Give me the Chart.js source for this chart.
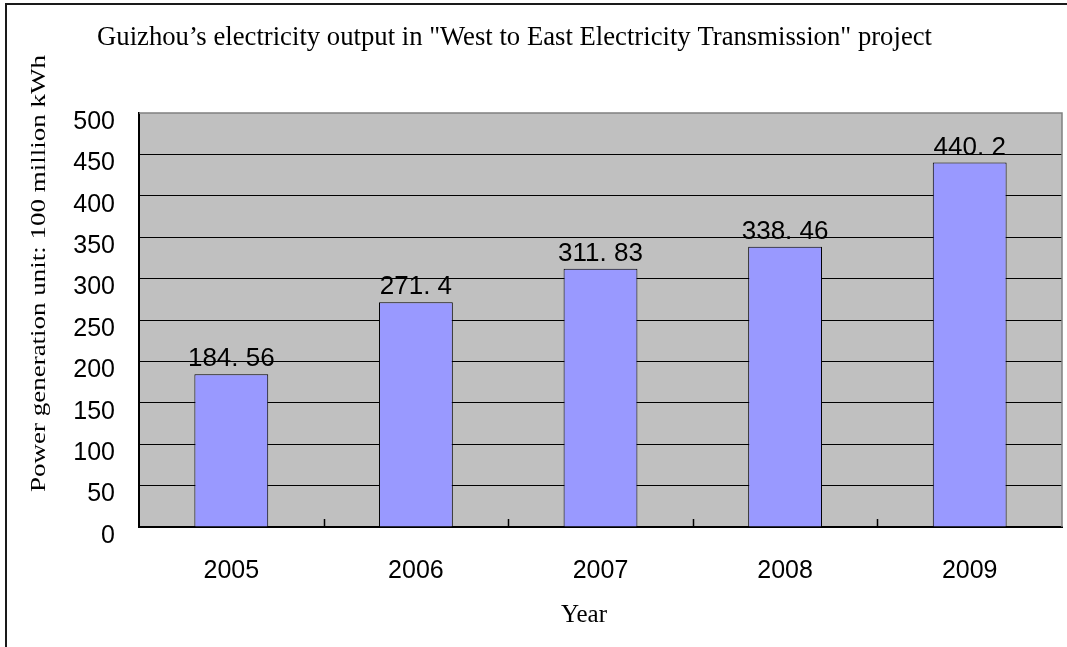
<!DOCTYPE html>
<html>
<head>
<meta charset="utf-8">
<script src="https://cdn.jsdelivr.net/npm/chart.js@4/dist/chart.umd.min.js"></script>
<style>
  html, body { margin: 0; padding: 0; background: #fff; }
  #wrap { width: 1067px; height: 647px; position: relative; }
</style>
</head>
<body>
<div id="wrap"><canvas id="c" width="1067" height="647"></canvas></div>
<script>
const years = ['2005', '2006', '2007', '2008', '2009'];
const output = [184.56, 271.4, 311.83, 338.46, 440.2];
const valueLabels = ['184. 56', '271. 4', '311. 83', '338. 46', '440. 2'];
const yTicks = [0, 50, 100, 150, 200, 250, 300, 350, 400, 450, 500];
const chartTitle = 'Guizhou\u2019s electricity output in "West to East Electricity Transmission" project';
const yTitle = 'Power generation unit: 100 million kWh';
const xTitle = 'Year';

const SANS = "'Liberation Sans', Arial, sans-serif";
const SERIF = "'Liberation Serif', 'Times New Roman', serif";

function drawStretched(ctx, text, x, y, targetWidth, rotate) {
  ctx.save();
  ctx.translate(x, y);
  if (rotate) ctx.rotate(-Math.PI / 2);
  const w = ctx.measureText(text).width;
  ctx.scale(targetWidth / w, 1);
  ctx.textAlign = 'center';
  ctx.textBaseline = 'alphabetic';
  ctx.fillText(text, 0, 0);
  ctx.restore();
}

const decor = {
  id: 'decor',
  beforeDraw(chart) {
    const { ctx, chartArea: a } = chart;
    ctx.save();
    ctx.fillStyle = '#ffffff';
    ctx.fillRect(0, 0, chart.width, chart.height);
    // outer frame (left and top)
    ctx.strokeStyle = '#1a1a1a';
    ctx.lineWidth = 2;
    ctx.beginPath();
    ctx.moveTo(6, 647);
    ctx.lineTo(6, 4);
    ctx.lineTo(1067, 4);
    ctx.stroke();
    // plot background
    ctx.fillStyle = '#c0c0c0';
    ctx.fillRect(a.left, a.top, a.right - a.left, a.bottom - a.top);
    ctx.restore();
  },
  afterDatasetsDraw(chart) {
    const { ctx, chartArea: a } = chart;
    const xs = chart.scales.x;
    ctx.save();
    // plot border top/right (gray)
    ctx.strokeStyle = '#808080';
    ctx.lineWidth = 1.5;
    ctx.beginPath();
    ctx.moveTo(a.left, a.top);
    ctx.lineTo(a.right, a.top);
    ctx.lineTo(a.right, a.bottom);
    ctx.stroke();
    // inward category tick marks
    ctx.strokeStyle = '#000';
    ctx.lineWidth = 1.5;
    for (let i = 1; i < years.length; i++) {
      const bx = Math.round((xs.getPixelForValue(i - 1) + xs.getPixelForValue(i)) / 2) + 0.5;
      ctx.beginPath();
      ctx.moveTo(bx, a.bottom);
      ctx.lineTo(bx, a.bottom - 8);
      ctx.stroke();
    }
    // value labels
    const meta = chart.getDatasetMeta(0);
    ctx.fillStyle = '#000';
    ctx.font = '26px ' + SANS;
    ctx.textAlign = 'center';
    ctx.textBaseline = 'alphabetic';
    meta.data.forEach((el, i) => {
      ctx.fillText(valueLabels[i], el.x, el.y - 8);
    });
    // titles
    ctx.fillStyle = '#000';
    ctx.font = '28px ' + SERIF;
    drawStretched(ctx, chartTitle, 514.5, 45, 835, false);
    ctx.font = '22px ' + SERIF;
    drawStretched(ctx, yTitle, 45, 273.5, 437, true);
    ctx.font = '25px ' + SERIF;
    ctx.textAlign = 'center';
    ctx.fillText(xTitle, 584, 622);
    ctx.restore();
  }
};

new Chart(document.getElementById('c'), {
  type: 'bar',
  data: {
    labels: years,
    datasets: [{
      data: output,
      backgroundColor: '#9999ff',
      borderColor: '#000000',
      borderWidth: 1,
      barPercentage: 1.0,
      categoryPercentage: 0.4
    }]
  },
  options: {
    responsive: false,
    animation: false,
    devicePixelRatio: 1,
    layout: { padding: { top: 113, right: 5, bottom: 0, left: 0 } },
    plugins: { legend: { display: false }, title: { display: false }, tooltip: { enabled: false } },
    scales: {
      x: {
        grid: { display: false, drawTicks: false },
        border: { display: true, color: '#000', width: 2 },
        ticks: { color: '#000', font: { size: 25, family: SANS }, padding: 29 },
        afterFit(scale) { scale.height = 120; }
      },
      y: {
        min: 0, max: 500,
        afterBuildTicks(scale) { scale.ticks = yTicks.map(v => ({ value: v })); },
        grid: {
          drawTicks: false,
          color: (c) => (c.tick && c.tick.value === 500) ? 'rgba(0,0,0,0)' : '#000',
          lineWidth: 1
        },
        border: { display: true, color: '#000', width: 2 },
        ticks: { color: '#000', font: { size: 25, family: SANS }, padding: 24, labelOffset: 9 },
        afterFit(scale) { scale.width = 139; }
      }
    }
  },
  plugins: [decor]
});
</script>
</body>
</html>
